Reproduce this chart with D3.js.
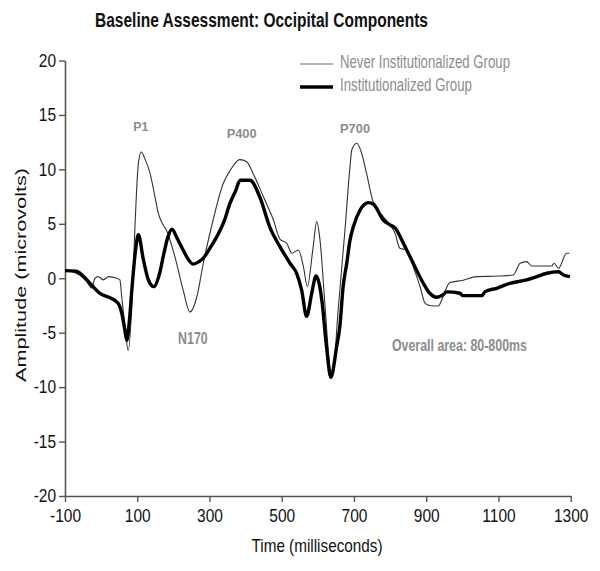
<!DOCTYPE html>
<html>
<head>
<meta charset="utf-8">
<script src="https://cdn.jsdelivr.net/npm/d3@7"></script>
<style>
  html, body { margin: 0; padding: 0; background: #fff; }
  svg { display: block; }
</style>
</head>
<body>
<svg id="chart" width="600" height="571"></svg>
<script>
// ---- Data ----
const title = "Baseline Assessment: Occipital Components";
const xLabel = "Time (milliseconds)";
const yLabel = "Amplitude (microvolts)";
const xTicks = [-100, 100, 300, 500, 700, 900, 1100, 1300];
const yTicks = [-20, -15, -10, -5, 0, 5, 10, 15, 20];
const seriesNames = ["Never Institutionalized Group", "Institutionalized Group"];

// Never Institutionalized Group (thin line)
const neverTime = [-100, -80, -60, -40, -26, -17, -8, 6, 20, 43, 52, 57, 66, 75, 85, 94, 103, 111, 122, 135, 149, 158, 170, 181, 204, 227, 246, 265, 283, 310, 338, 357, 384, 403, 421, 449, 477, 495, 514, 528, 546, 560, 571, 586, 597, 606, 620, 634, 640, 657, 675, 689, 694, 708, 721, 735, 753, 781, 800, 814, 827, 846, 864, 883, 897, 910, 933, 943, 952, 966, 1000, 1040, 1100, 1141, 1160, 1178, 1192, 1247, 1254, 1266, 1289, 1296];
const neverAmp  = [0.7, 0.6, 0.3, -0.3, -0.9, 0.0, 0.15, -0.15, 0.15, 0.0, -0.15, -1.7, -4.4, -6.65, -2.6, 5.0, 10.5, 11.6, 10.9, 9.7, 7.5, 6.0, 5.0, 4.4, 2.0, -1.07, -3.1, -1.7, 1.4, 5.35, 8.7, 9.9, 10.9, 10.7, 9.6, 7.5, 5.35, 3.6, 3.2, 2.3, 2.6, 1.07, -0.77, 2.6, 5.2, 3.5, -2.6, -8.4, -9.0, -2.6, 4.4, 10.25, 11.8, 12.4, 11.5, 9.6, 7.0, 5.66, 4.9, 4.1, 2.75, 2.6, 1.07, -0.77, -2.3, -2.5, -2.55, -2.0, -1.2, -0.4, -0.2, 0.15, 0.2, 0.3, 1.38, 1.53, 1.13, 1.13, 1.38, 0.92, 2.3, 2.3];

// Institutionalized Group (thick line)
const instTime = [-100, -70, -58, -31, -3, 25, 47, 57, 65, 71, 78, 85, 95, 103, 117, 131, 146, 163, 172, 185, 196, 210, 227, 240, 255, 270, 283, 300, 320, 340, 357, 372, 385, 412, 440, 467, 495, 523, 541, 555, 569, 583, 595, 611, 624, 636, 652, 661, 670, 680, 689, 698, 717, 740, 754, 781, 800, 814, 837, 864, 892, 910, 929, 947, 957, 993, 1002, 1054, 1063, 1095, 1132, 1178, 1206, 1234, 1266, 1280, 1298];
const instAmp  = [0.7, 0.65, 0.45, -0.46, -1.4, -1.8, -2.3, -3.2, -4.6, -5.7, -4.0, -1.07, 2.5, 4.0, 1.7, -0.16, -0.77, 0.6, 2.0, 3.8, 4.5, 3.7, 2.6, 1.8, 1.3, 1.5, 1.84, 2.7, 3.8, 5.2, 6.9, 8.0, 9.0, 9.0, 7.4, 4.7, 2.9, 1.38, 0.46, -1.07, -3.5, -1.38, 0.2, -2.0, -6.3, -9.1, -6.3, -4.4, -0.77, 1.38, 3.5, 4.7, 6.27, 6.95, 6.8, 5.35, 4.9, 4.6, 3.2, 1.38, -0.46, -1.38, -1.75, -1.5, -1.25, -1.38, -1.6, -1.6, -1.23, -0.92, -0.46, -0.15, 0.15, 0.46, 0.6, 0.3, 0.15];

// Component annotations (label, time position, amplitude position)
const annoLabels = ["P1", "P400", "P700", "N170", "Overall area: 80-800ms"];
const annoTime   = [110, 389, 703, 254, 992];
const annoAmp    = [13.5, 12.9, 13.3, -6.0, -6.7];

// ---- Drawing ----
const svg = d3.select("#chart");
const x = d3.scaleLinear().domain([-100, 1300]).range([65, 570.7]);
const y = d3.scaleLinear().domain([-20, 20]).range([496, 60.5]);

const font = "\"Liberation Sans\", Arial, sans-serif";

// compress text horizontally to a target width (the original uses a narrow face)
function fitWidth(sel, w) {
  sel.attr("textLength", w).attr("lengthAdjust", "spacingAndGlyphs");
}
function squeeze(sel, f) {
  sel.each(function () {
    const w = this.getComputedTextLength();
    d3.select(this).attr("textLength", w * f).attr("lengthAdjust", "spacingAndGlyphs");
  });
}

// Title
svg.append("text")
  .attr("x", 261.5).attr("y", 27)
  .attr("text-anchor", "middle")
  .attr("font-family", font).attr("font-weight", "bold")
  .attr("font-size", 20).attr("fill", "#111")
  .text(title)
  .call(fitWidth, 333);

// Axes
const yAxis = svg.append("g")
  .attr("transform", `translate(${x(-100)},0)`)
  .call(d3.axisLeft(y).tickValues(yTicks).tickSize(6).tickSizeOuter(0).tickPadding(3).tickFormat(d3.format("d")));
const xAxis = svg.append("g")
  .attr("transform", `translate(0,${y(-20)})`)
  .call(d3.axisBottom(x).tickValues(xTicks).tickSize(6).tickSizeOuter(0).tickPadding(7).tickFormat(d3.format("d")));

[yAxis, xAxis].forEach(g => {
  g.select(".domain").attr("stroke", "#555").attr("stroke-width", 1.6);
  g.selectAll(".tick line").attr("stroke", "#555").attr("stroke-width", 1.4);
  g.selectAll(".tick text").attr("font-family", font).attr("font-size", 18).attr("fill", "#111")
    .text(d => d < 0 ? "-" + Math.abs(d) : d);
});
xAxis.selectAll(".tick text").call(squeeze, 0.86);
yAxis.selectAll(".tick text").call(squeeze, 0.86);

// Axis labels
svg.append("text")
  .attr("x", 317).attr("y", 551.5)
  .attr("text-anchor", "middle")
  .attr("font-family", font).attr("font-size", 19).attr("fill", "#111")
  .text(xLabel)
  .call(fitWidth, 131);
svg.append("text")
  .attr("transform", "translate(25.5,275) rotate(-90)")
  .attr("text-anchor", "middle")
  .attr("font-family", font).attr("font-size", 15).attr("fill", "#111")
  .text(yLabel)
  .call(fitWidth, 214);

// Lines
const line = d3.line().x(d => x(d[0])).y(d => y(d[1])).curve(d3.curveMonotoneX);
const neverData = neverTime.map((t, i) => [t, neverAmp[i]]);
const instData = instTime.map((t, i) => [t, instAmp[i]]);

svg.append("path").datum(neverData)
  .attr("d", line).attr("fill", "none")
  .attr("stroke", "#333").attr("stroke-width", 1.1);
svg.append("path").datum(instData)
  .attr("d", line).attr("fill", "none")
  .attr("stroke", "#000").attr("stroke-width", 3.4)
  .attr("stroke-linejoin", "round");

// Annotations
const annoSize = [13, 13, 13, 16, 16];
const annoWidth = [15, 30, 30, 29.5, 135];
svg.selectAll("text.anno").data(annoLabels).enter().append("text")
  .attr("class", "anno")
  .attr("x", (d, i) => x(annoTime[i]))
  .attr("y", (d, i) => y(annoAmp[i]))
  .attr("text-anchor", "middle")
  .attr("font-family", font).attr("font-weight", "bold")
  .attr("font-size", (d, i) => annoSize[i]).attr("fill", "#8c8c8c")
  .attr("textLength", (d, i) => annoWidth[i]).attr("lengthAdjust", "spacingAndGlyphs")
  .text(d => d);

// Legend
const legY = [64, 87];
const legTextY = [67.5, 91];
const legW = [1.1, 3.4];
const legC = ["#666", "#000"];
const legTextW = [170, 132];
seriesNames.forEach((name, i) => {
  svg.append("line")
    .attr("x1", 300).attr("x2", 333)
    .attr("y1", legY[i]).attr("y2", legY[i])
    .attr("stroke", legC[i]).attr("stroke-width", legW[i]);
  svg.append("text")
    .attr("x", 340).attr("y", legTextY[i])
    .attr("font-family", font).attr("font-size", 19).attr("fill", "#8c8c8c")
    .text(name)
    .call(fitWidth, legTextW[i]);
});
</script>
</body>
</html>
